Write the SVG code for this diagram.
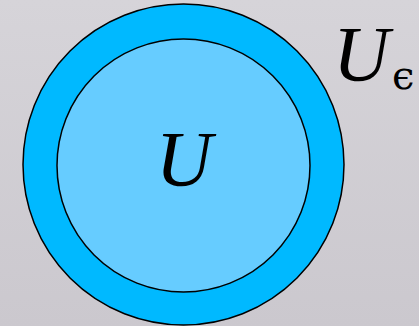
<svg xmlns="http://www.w3.org/2000/svg" width="419" height="326" viewBox="0 0 419 326">
<defs>
<linearGradient id="bg" x1="0" y1="0" x2="0" y2="1">
<stop offset="0" stop-color="#D6D4D9"/>
<stop offset="1" stop-color="#CBC8CE"/>
</linearGradient>
<style>
.lbl{font-family:'Liberation Serif','Times New Roman',serif;font-style:italic;fill:#000}
.eps{font-family:'DejaVu Serif',serif;font-style:normal;fill:#000}
</style>
</defs>
<rect width="419" height="326" fill="url(#bg)"/>
<g id="outer">
<circle cx="183.5" cy="164.5" r="160.5" fill="#00B9FF" stroke="#000" stroke-width="1.5"/>
</g>
<g id="inner">
<circle cx="183.5" cy="165.5" r="126.5" fill="#66CCFF" stroke="#000" stroke-width="1.5"/>
<text class="lbl" x="184" y="185" font-size="78" text-anchor="middle">U</text>
</g>
<g id="label-outer">
<text class="lbl" x="333" y="80" font-size="78">U</text>
<text class="eps" x="392" y="89" font-size="40">ϵ</text>
</g>
<g id="connectors"/>
</svg>
